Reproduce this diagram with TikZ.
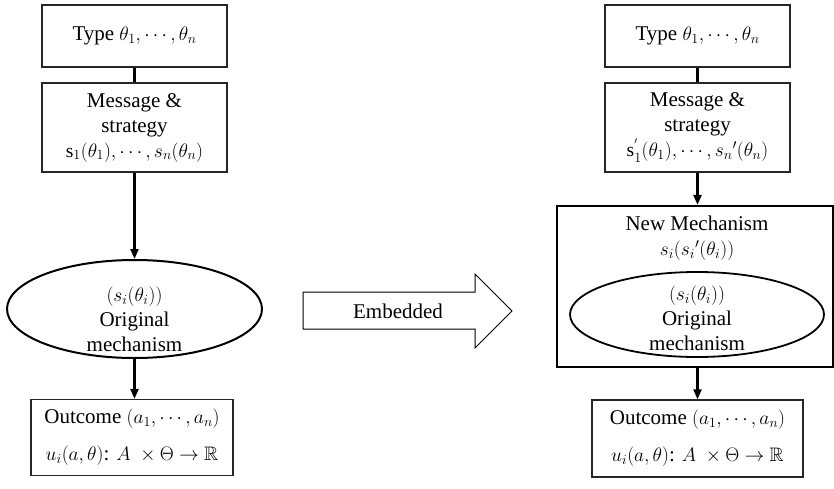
\documentclass[tikz,border=0pt]{standalone}
\usepackage{fix-cm}
\usepackage{amssymb}
\usepackage{fontspec}
\setmainfont{Liberation Serif}
\DeclareMathSizes{21}{19.5}{14}{10}
\usetikzlibrary{shapes.geometric,arrows.meta}
\begin{document}
\begin{tikzpicture}[x=1pt,y=-1pt,
  every node/.style={font=\fontsize{21}{25}\selectfont, inner sep=0pt},
  box/.style={draw=black!85, line width=1.2pt, fill=white, align=center},
  bigbox/.style={draw=black, line width=2.2pt, fill=white},
  oval/.style={draw=black, line width=2pt, ellipse, fill=white},
  link/.style={line width=2.8pt},
  arr/.style={line width=2.2pt, -{Triangle[length=10pt,width=8pt]}},
  txt/.style={align=center}]
\useasboundingbox (0,0) rectangle (834,489);

% ---- left column: direct mechanism ----
\node[box, minimum width=185, minimum height=62] (t1) at (134.5,36)
  {Type $\theta_1,\cdots,\theta_n$};
\node[box, minimum width=185, minimum height=89] (m1) at (134.5,127.5)
  {Message \&\\ strategy\\ $\mathrm{s}_1(\theta_1),\cdots,s_n(\theta_n)$};
\node[oval, minimum width=255, minimum height=98] (e1) at (134.5,309) {};
\node[txt] (e1t) at (134.5,319) {$(s_i(\theta_i))$\\ Original\\ mechanism};
\node[box, minimum width=202, minimum height=76] (o1) at (132,437.5)
  {Outcome $(a_1,\cdots,a_n)$\\[12pt] $u_i(a,\theta)$: $A\ \times\Theta\rightarrow\mathbb{R}$};

\draw[link] (t1.south) -- (m1.north);
\draw[arr] (m1.south) -- (e1.north);
\draw[arr] (e1.south) -- (e1.south |- o1.north);

% ---- embedding arrow ----
\draw[line width=1pt, fill=white]
  (303,292) -- (475,292) -- (475,274) -- (512,311) -- (475,348)
  -- (475,329) -- (303,329) -- cycle;
\node (emb) at (398,311) {Embedded};

% ---- right column: new mechanism ----
\node[box, minimum width=185, minimum height=62] (t2) at (697.5,36)
  {Type $\theta_1,\cdots,\theta_n$};
\node[box, minimum width=185, minimum height=89] (m2) at (697.5,127.5)
  {Message \&\\ strategy\\ $\mathrm{s}_1^{'}(\theta_1),\cdots,{s_n}'(\theta_n)$};
\node[bigbox, minimum width=276, minimum height=161] (n2) at (695,286.5) {};
\node[txt] (n2t) at (697,238) {New Mechanism\\ $s_i({s_i}'(\theta_i))$};
\node[oval, line width=1.8pt, minimum width=254, minimum height=85] (e2) at (697,314.5) {};
\node[txt] (e2t) at (697,318) {$(s_i(\theta_i))$\\ Original\\ mechanism};
\node[box, minimum width=211, minimum height=77] (o2) at (697.5,438.5)
  {Outcome $(a_1,\cdots,a_n)$\\[12pt] $u_i(a,\theta)$: $A\ \times\Theta\rightarrow\mathbb{R}$};

\draw[link] (t2.south) -- (m2.north);
\draw[arr] (m2.south) -- (m2.south |- n2.north);
\draw[arr] (m2.south |- n2.south) -- (m2.south |- o2.north);
\end{tikzpicture}
\end{document}
